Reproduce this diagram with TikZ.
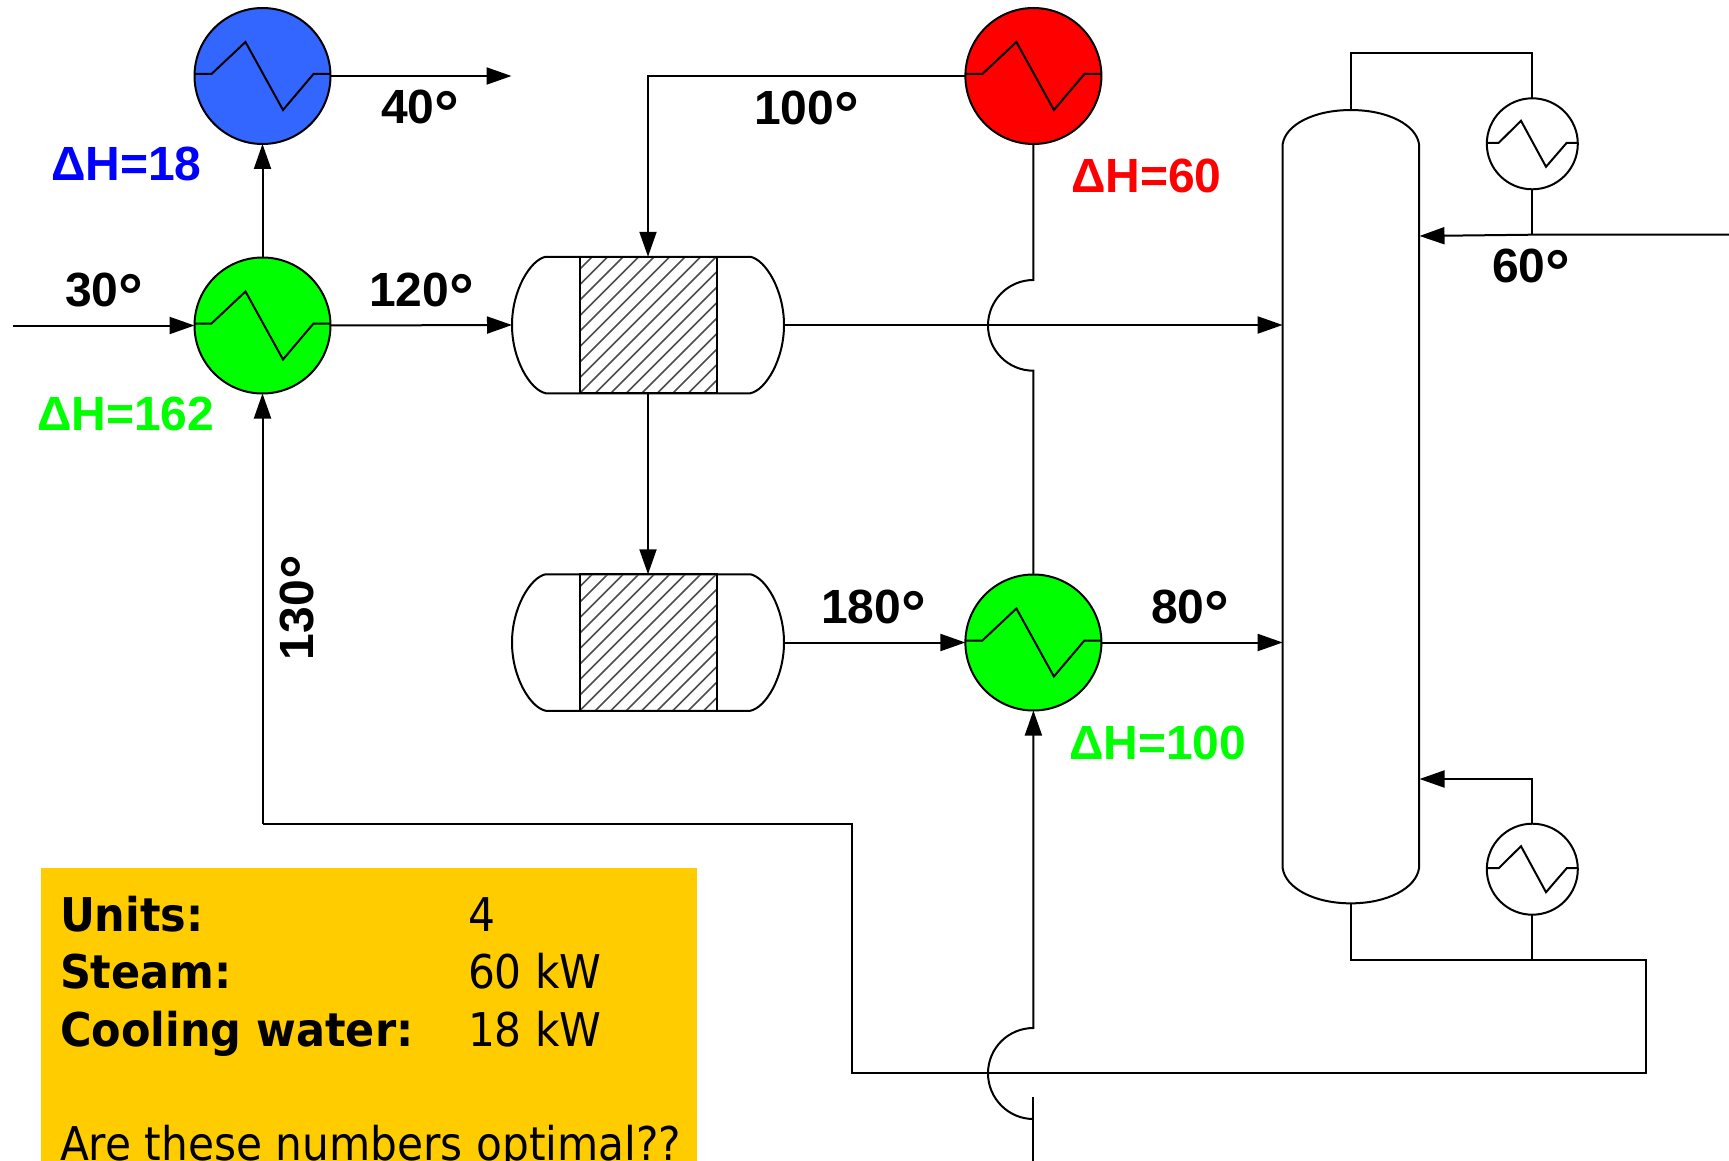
\documentclass[tikz,border=0pt]{standalone}
\usepackage{fontspec}
\setmainfont{Liberation Sans}
\newfontfamily\boxfont[FakeStretch=0.91,BoldFeatures={FakeStretch=0.925}]{DejaVu Sans}
\usetikzlibrary{arrows.meta,calc}
\definecolor{hxblue}{HTML}{3366FF}
\definecolor{hxgreen}{HTML}{00FF00}
\definecolor{hxred}{HTML}{FF0000}
\definecolor{dhblue}{HTML}{0000FF}
\definecolor{boxyellow}{HTML}{FFCC00}
\newcommand{\degsign}{\raisebox{-11pt}{\fontsize{62}{62}\selectfont °}}
\tikzset{
  x=1pt,y=-1pt,
  pipe/.style={draw=black,line width=2pt},
  flow/.style={pipe,-{Triangle[length=25pt,width=17pt]}},
  hxbig/.style={circle,draw=black,line width=2pt,minimum size=136pt,inner sep=0pt,outer sep=0pt,
    path picture={\draw[line width=2pt,shift={(path picture bounding box.center)}]
      (-68,-2)--(-51,-2)--(-17,-34)--(20.5,34)--(51,-2)--(68,-2);}},
  hxsmall/.style={circle,draw=black,line width=2pt,minimum size=91pt,inner sep=0pt,outer sep=0pt,
    path picture={\draw[line width=2pt,shift={(path picture bounding box.center)}]
      (-45.5,-1)--(-33.6,-1)--(-11.3,-23)--(13.7,23)--(34.4,-1)--(45.5,-1);}},
  bed/.style={rectangle,draw=black,line width=2pt,minimum width=137pt,minimum height=136.5pt,inner sep=0pt,outer sep=0pt,
    path picture={\begin{scope}[shift={(path picture bounding box.center)}]
      \foreach \k in {-12,...,12}{\draw[line width=1.7pt,black!70] ({\k*15.5-80},80)--({\k*15.5+80},-80);}
      \end{scope}}},
  anchorbox/.style={rectangle,inner sep=0pt,outer sep=0pt},
  templabel/.style={font=\fontsize{48}{56}\selectfont\bfseries,anchor=base west,inner sep=0pt,outer sep=0pt},
  boxtext/.style={font=\fontsize{46.5}{56}\selectfont\boxfont,anchor=base west,inner sep=0pt,outer sep=0pt},
  boxhead/.style={font=\fontsize{46.5}{56}\selectfont\boxfont\bfseries,anchor=base west,inner sep=0pt,outer sep=0pt},
}
\begin{document}
\begin{tikzpicture}
\useasboundingbox (0,0) rectangle (1729,1161);
\fill[white] (0,0) rectangle (1729,1161);
\clip (0,0) rectangle (1729,1161);

% summary box
\fill[boxyellow] (41,868) rectangle (697,1161);
\node[boxhead] (tUnits) at (60,931) {Units:};
\node[boxhead] (tSteam) at (60,988) {Steam:};
\node[boxhead] (tCool) at (60,1046.5) {Cooling water:};
\node[boxtext] (vUnits) at (468,931) {4};
\node[boxtext] (vSteam) at (468,988) {60 kW};
\node[boxtext] (vCool) at (468,1046.5) {18 kW};
\node[boxtext] (tQ) at (60,1160) {Are these numbers optimal??};

% heat exchangers
\node[hxbig,fill=hxblue] (hxb) at (262.5,76) {};
\node[hxbig,fill=hxgreen] (hxg1) at (262.5,325.5) {};
\node[hxbig,fill=hxred] (hxr) at (1033.4,76) {};
\node[hxbig,fill=hxgreen] (hxg2) at (1033.4,642.5) {};
\node[hxsmall] (cond) at (1532.3,143.8) {};
\node[hxsmall] (reb) at (1532.3,869.2) {};

% reactors
\node[anchorbox,minimum width=272pt,minimum height=136.5pt] (r1) at (648,325) {};
\node[anchorbox,minimum width=272pt,minimum height=136.5pt] (r2) at (648,642.5) {};
\foreach \r in {r1,r2}{
  \draw[pipe] ($(\r.north west)+(33.7,0)$) -- ($(\r.north east)+(-33.7,0)$)
    .. controls ($(\r.north east)+(-18.5,3)$) and ($(\r.east)+(0,-35)$) .. (\r.east)
    .. controls ($(\r.east)+(0,35)$) and ($(\r.south east)+(-18.5,-3)$) .. ($(\r.south east)+(-33.7,0)$)
    -- ($(\r.south west)+(33.7,0)$)
    .. controls ($(\r.south west)+(18.5,-3)$) and ($(\r.west)+(0,35)$) .. (\r.west)
    .. controls ($(\r.west)+(0,-35)$) and ($(\r.north west)+(18.5,3)$) .. ($(\r.north west)+(33.7,0)$) -- cycle;
}
\node[bed] (b1) at (648,325) {};
\node[bed] (b2) at (648,642.5) {};

% column
\node[anchorbox,minimum width=136.3pt,minimum height=793.3pt] (col) at (1350.8,506.7) {};
\draw[pipe] (1282.7,144) .. controls (1285.5,125.2) and (1313.2,110) .. (col.north)
  .. controls (1388.4,110) and (1416.2,125.2) .. (1419,144)
  -- (1419,868.3) .. controls (1416.2,887.6) and (1388.4,903.3) .. (col.south)
  .. controls (1313.2,903.3) and (1285.5,887.6) .. (1282.7,868.3) -- cycle;

% free ends and bends
\coordinate (feedin) at (12.5,325.5);
\coordinate (prodout) at (511.5,76);
\coordinate (rfeed) at (1729,234.7);
\coordinate (rjoin) at (1532.3,234.7);
\coordinate (rend) at (1419.5,236);
\coordinate (condtop) at (1532.3,53.3);
\coordinate (botjoin) at (1532.3,960);
\coordinate (botcorner) at (1645.6,960);
\coordinate (lowcorner) at (1645.6,1073.3);
\coordinate (midcorner) at (852.4,1073.3);
\coordinate (midup) at (852.4,823.7);
\coordinate (leftcorner) at (262.5,823.7);
\coordinate (steamin) at (1033.4,1161);
\coordinate (j1a) at (1033.4,280);
\coordinate (j1m) at (988,325.5);
\coordinate (j1b) at (1033.4,370.7);
\coordinate (j2s) at (1033.4,1097.3);
\coordinate (j2a) at (1033.4,1119);
\coordinate (j2m) at (988,1073.3);
\coordinate (j2b) at (1033.4,1028);
\coordinate (rbase) at (648,76);
\coordinate (rebret) at (1419.5,779);

% connectors
\draw[flow] (feedin) -- (hxg1.west);
\draw[flow] (hxg1.east) -- (r1.west);
\draw[flow] (hxg1.north) -- (hxb.south);
\draw[flow] (hxb.east) -- (prodout);
\draw[flow] (hxr.west) -- (rbase) -- (b1.north);
\draw[flow] (b1.south) -- (b2.north);
\draw[flow] (r2.east) -- (hxg2.west);
\draw[flow] (hxg2.east) -- (hxg2.east -| col.west);
\draw[flow] (r1.east) -- (r1.east -| col.west);
\draw[pipe] (hxr.south) -- (j1a)
  .. controls (1008.3,280) and (988,300.4) .. (j1m)
  .. controls (988,350.6) and (1008.3,370.7) .. (j1b) -- (hxg2.north);
\draw[pipe] (col.north) |- (condtop) -- (cond.north);
\draw[pipe] (cond.south) -- (rjoin);
\draw[flow] (rfeed) -- (rjoin) -- (rend);
\draw[flow] (reb.north) |- (rebret);
\draw[pipe] (col.south) |- (botjoin) -- (botcorner) -- (lowcorner) -- (midcorner) -- (midup) -- (leftcorner);
\draw[flow] (leftcorner) -- (hxg1.south);
\draw[pipe] (botjoin) -- (reb.south);
\draw[pipe] (steamin) -- (j2s);
\draw[flow] (j2a)
  .. controls (1008.3,1119) and (988,1098.4) .. (j2m)
  .. controls (988,1048.2) and (1008.3,1028) .. (j2b) -- (hxg2.south);

% labels
\node[templabel] (l40) at (381,124) {40\degsign};
\node[templabel] (l30) at (65,306) {30\degsign};
\node[templabel] (l120) at (369,306) {120\degsign};
\node[templabel] (l100) at (754,125) {100\degsign};
\node[templabel] (l60) at (1492,282.7) {60\degsign};
\node[templabel] (l180) at (821,623) {180\degsign};
\node[templabel] (l80) at (1151,623) {80\degsign};
\node[templabel,rotate=90] (l130) at (313,660) {130\degsign};
\node[templabel,text=dhblue] (dh18) at (51,181) {ΔH=18};
\node[templabel,text=hxgreen] (dh162) at (37,430) {ΔH=162};
\node[templabel,text=hxred] (dh60) at (1071,193) {ΔH=60};
\node[templabel,text=hxgreen] (dh100) at (1069,759.5) {ΔH=100};
\end{tikzpicture}
\end{document}
